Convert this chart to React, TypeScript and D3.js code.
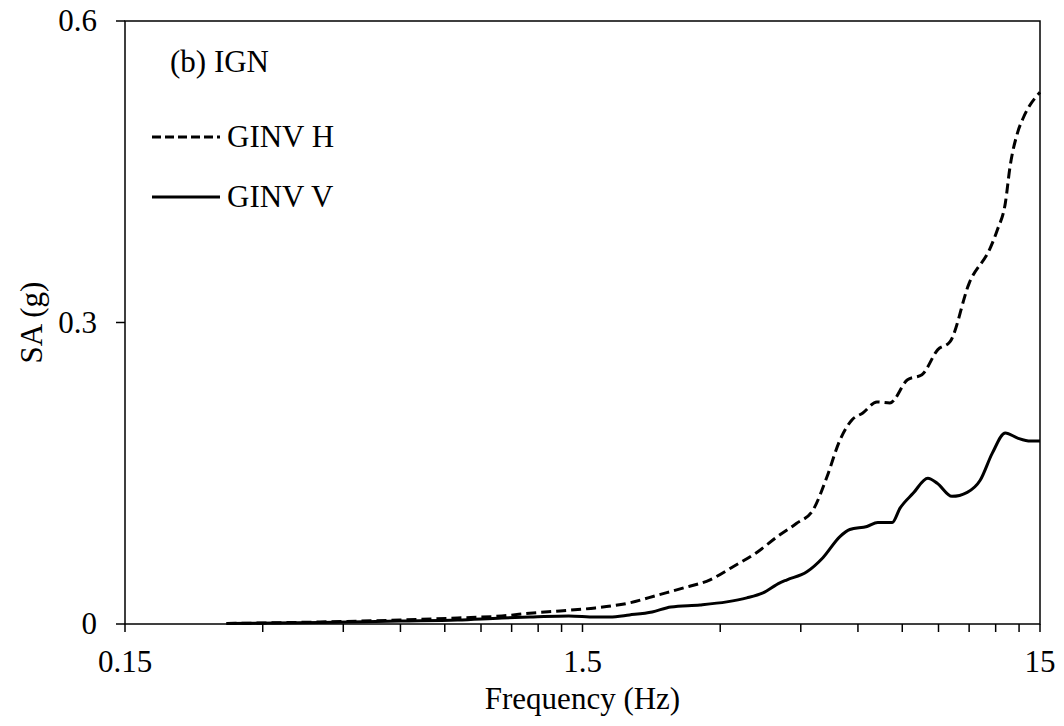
import React from 'react';
import * as d3 from 'd3';

const width = 1064;
const height = 726;
const margin = { left: 125, right: 24, top: 21, bottom: 102 };

// GINV H (dashed)
const hFreq = [0.25, 0.4, 0.6, 0.8, 1.0, 1.17, 1.34, 1.6, 1.9, 2.2, 2.5, 2.85, 3.2, 3.6, 4.0, 4.4, 4.78, 5.13, 5.48, 5.82, 6.15, 6.6, 7.05, 7.7, 8.28, 8.97, 9.54, 10.5, 11.7, 12.1, 12.6, 12.9, 13.4, 13.8, 15];
const hSA = [0.0005, 0.002, 0.004, 0.006, 0.008, 0.011, 0.013, 0.016, 0.021, 0.029, 0.036, 0.044, 0.057, 0.071, 0.087, 0.1, 0.113, 0.146, 0.183, 0.203, 0.21, 0.221, 0.22, 0.243, 0.248, 0.273, 0.281, 0.339, 0.375, 0.392, 0.419, 0.455, 0.489, 0.504, 0.529];

// GINV V (solid)
const vFreq = [0.25, 0.4, 0.6, 0.8, 1.0, 1.17, 1.4, 1.6, 1.72, 1.9, 2.13, 2.34, 2.71, 3.1, 3.43, 3.72, 4.05, 4.2, 4.64, 5.03, 5.48, 5.76, 6.28, 6.63, 7.13, 7.41, 7.92, 8.53, 8.94, 9.63, 10.4, 11.1, 11.8, 12.6, 13.4, 14.3, 15];
const vSA = [0.0005, 0.0015, 0.003, 0.004, 0.006, 0.007, 0.008, 0.007, 0.007, 0.009, 0.012, 0.017, 0.019, 0.022, 0.026, 0.031, 0.041, 0.044, 0.052, 0.066, 0.087, 0.094, 0.097, 0.101, 0.101, 0.115, 0.13, 0.145, 0.14, 0.127, 0.131, 0.143, 0.17, 0.19, 0.185, 0.182, 0.182];

const xLabels = [0.15, 1.5, 15];
const xMinor = [0.3, 0.45, 0.6, 0.75, 0.9, 1.05, 1.2, 1.35, 3, 4.5, 6, 7.5, 9, 10.5, 12, 13.5];
const yTicks = [0, 0.3, 0.6];

const txt = { fontFamily: '"Liberation Serif", "Times New Roman", serif', fontSize: 31 };

const App = () => {
  const x = d3.scaleLog().domain([0.15, 15]).range([margin.left, width - margin.right]);
  const y = d3.scaleLinear().domain([0, 0.6]).range([height - margin.bottom, margin.top]);
  const x0 = x.range()[0];
  const x1 = x.range()[1];
  const y0 = y.range()[0];
  const y1 = y.range()[1];

  const line = d3.line<[number, number]>()
    .x(d => x(d[0]))
    .y(d => y(d[1]))
    .curve(d3.curveMonotoneX);

  const hPts = hFreq.map((f, i) => [f, hSA[i]] as [number, number]);
  const vPts = vFreq.map((f, i) => [f, vSA[i]] as [number, number]);

  return (
    <svg width={width} height={height} style={{ position: 'absolute', left: 0, top: 0 }}>
      <rect x={0} y={0} width={width} height={height} fill="#fff" />

      <path d={line(hPts) || ''} fill="none" stroke="#000" strokeWidth={3} strokeDasharray="10,5" />
      <path d={line(vPts) || ''} fill="none" stroke="#000" strokeWidth={3} />

      {/* frame */}
      <rect x={x0} y={y1} width={x1 - x0} height={y0 - y1} fill="none" stroke="#000" strokeWidth={1.5} />

      {[...xLabels, ...xMinor].map(t => (
        <line key={'xt' + t} x1={x(t)} x2={x(t)} y1={y0} y2={y0 + 8} stroke="#000" strokeWidth={1.5} />
      ))}
      {xLabels.map(t => (
        <text key={'xl' + t} x={x(t)} y={y0 + 48} textAnchor="middle" style={txt}>{t}</text>
      ))}
      {yTicks.map(t => (
        <g key={'y' + t}>
          <line x1={x0 - 9} x2={x0} y1={y(t)} y2={y(t)} stroke="#000" strokeWidth={1.5} />
          <text x={x0 - 28} y={y(t) + 10} textAnchor="end" style={txt}>{t}</text>
        </g>
      ))}

      <text x={(x0 + x1) / 2} y={709} textAnchor="middle" style={txt}>Frequency (Hz)</text>
      <text transform={`translate(42,${(y0 + y1) / 2}) rotate(-90)`} textAnchor="middle" style={txt}>SA (g)</text>

      <text x={170} y={72} style={txt}>(b) IGN</text>
      <line x1={152} x2={220} y1={137} y2={137} stroke="#000" strokeWidth={3} strokeDasharray="9,4" />
      <text x={227} y={147} style={txt}>GINV H</text>
      <line x1={152} x2={220} y1={197} y2={197} stroke="#000" strokeWidth={3} />
      <text x={227} y={207} style={txt}>GINV V</text>
    </svg>
  );
};

export default App;
